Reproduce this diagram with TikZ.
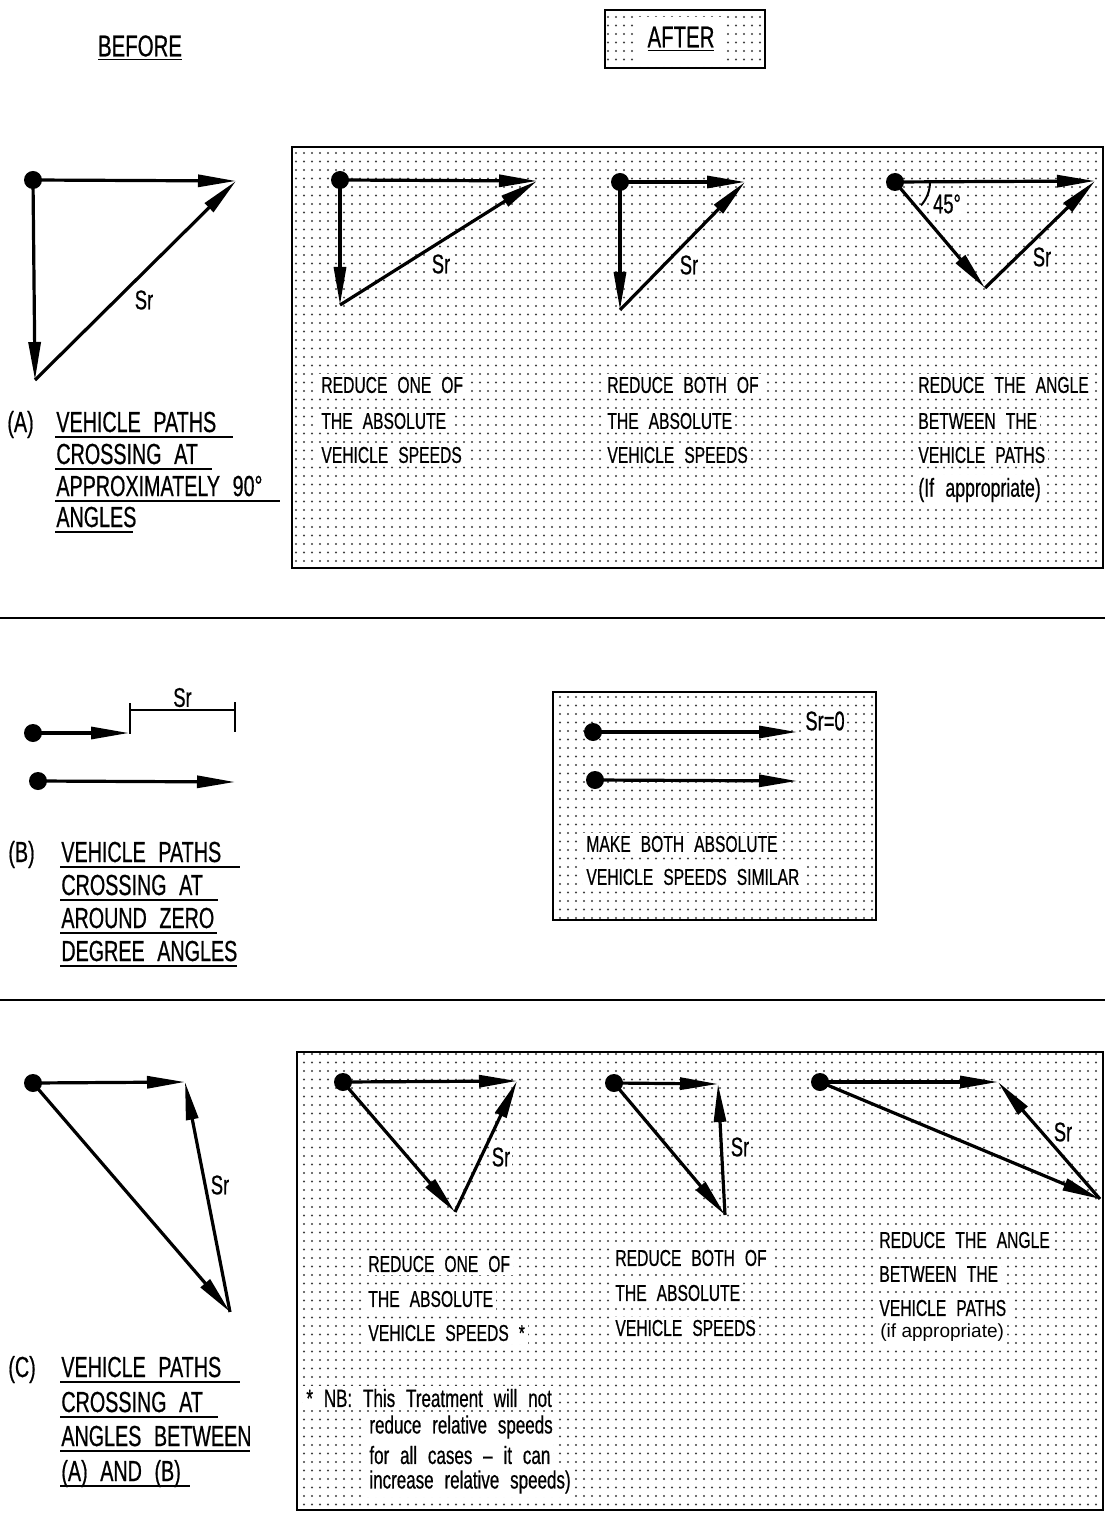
\documentclass[tikz,border=0pt]{standalone}
\usepackage{fontspec}
\setmainfont{Liberation Sans}[FakeStretch=0.68, WordSpace=2.3, FakeBold=0.6]
\newfontfamily\plainsf{Liberation Sans}
\usetikzlibrary{arrows.meta, patterns.meta}

\tikzdeclarepattern{
  name=spots, type=uncolored,
  bottom left={(-1pt,-1pt)}, top right={(3pt,3.25pt)},
  tile size={(4pt,4.25pt)},
  code={\fill (0,0) circle (0.55pt);}
}

\begin{document}
\begin{tikzpicture}[x=0.5pt, y=0.5pt,
  vec/.style={line width=1.6pt, -{Triangle[length=19pt, width=6pt]}},
  panel/.style={draw, line width=1pt, pattern=spots, pattern color=black!75},
  txt/.style={anchor=west, fill=white, inner sep=1.5pt, font=\fontsize{11.5}{13}\selectfont},
  lbl/.style={anchor=base west, inner sep=0pt, font=\fontsize{14.5}{17}\selectfont},
  sr/.style={fill=white, inner sep=1pt, font=\fontsize{13.5}{15}\selectfont},
  uline/.style={line width=0.9pt}]
  \useasboundingbox (0,0) rectangle (1105,-1513);

  % headings
  \node[font=\fontsize{15}{17}\selectfont] (before) at (140,-48) {\underline{BEFORE}};
  \draw[panel] (605,-10) rectangle (765,-68);
  \node[fill=white, inner xsep=6pt, inner ysep=5pt, font=\fontsize{15}{17}\selectfont]
    (after) at (681,-39) {\underline{AFTER}};

  % dotted panels
  \draw[panel] (292,-147) rectangle (1103,-568);
  \draw[panel] (553,-692) rectangle (876,-920);
  \draw[panel] (297,-1052) rectangle (1103,-1510);

  % section rules
  \draw[line width=1pt] (0,-618) -- (1105,-618);
  \draw[line width=1pt] (0,-1000) -- (1105,-1000);

  % ---------------- (A) ----------------
  \coordinate (aBo) at (33,-180);
  \coordinate (aBx) at (236,-181);
  \coordinate (aBy) at (35,-380);
  \coordinate (a1o) at (340,-180);
  \coordinate (a1x) at (537,-181);
  \coordinate (a1y) at (340,-305);
  \coordinate (a2o) at (620,-182);
  \coordinate (a2x) at (745,-182);
  \coordinate (a2y) at (620,-310);
  \coordinate (a3o) at (895,-182);
  \coordinate (a3x) at (1095,-181);
  \coordinate (a3y) at (985,-288);

  \node[sr] (aBs) at (144,-300) {Sr};
  \node[sr] (a1s) at (441,-264) {Sr};
  \node[sr] (a2s) at (689,-265) {Sr};
  \node[sr] (a3s) at (1042,-257) {Sr};
  \node[sr, inner sep=0.5pt] (a3g) at (947,-204) {45°};

  \draw[vec] (aBo) -- (aBx);
  \draw[vec] (aBo) -- (aBy);
  \draw[vec] (aBy) -- (aBx);
  \draw[vec] (a1o) -- (a1x);
  \draw[vec] (a1o) -- (a1y);
  \draw[vec] (a1y) -- (a1x);
  \draw[vec] (a2o) -- (a2x);
  \draw[vec] (a2o) -- (a2y);
  \draw[vec] (a2y) -- (a2x);
  \draw[vec] (a3o) -- (a3x);
  \draw[vec] (a3o) -- (a3y);
  \draw[vec] (a3y) -- (a3x);
  \draw[line width=1pt] (a3o) ++(35,0) arc[start angle=0, end angle=-42, radius=35];
  \fill (aBo) circle (4.5pt);
  \fill (a1o) circle (4.5pt);
  \fill (a2o) circle (4.5pt);
  \fill (a3o) circle (4.5pt);

  \node[txt] (a1t1) at (318,-385) {REDUCE ONE OF};
  \node[txt] (a1t2) at (318,-421) {THE ABSOLUTE};
  \node[txt] (a1t3) at (318,-455) {VEHICLE SPEEDS};
  \node[txt] (a2t1) at (604,-385) {REDUCE BOTH OF};
  \node[txt] (a2t2) at (604,-421) {THE ABSOLUTE};
  \node[txt] (a2t3) at (604,-455) {VEHICLE SPEEDS};
  \node[txt] (a3t1) at (915,-385) {REDUCE THE ANGLE};
  \node[txt] (a3t2) at (915,-421) {BETWEEN THE};
  \node[txt] (a3t3) at (915,-455) {VEHICLE PATHS};
  \node[txt, font=\fontsize{13}{14}\selectfont] (a3t4) at (915,-490) {(If appropriate)};

  \node[lbl] (aTag) at (7,-432) {(A)};
  \node[lbl] (aL1) at (56,-432) {VEHICLE PATHS};
  \node[lbl] (aL2) at (56,-464) {CROSSING AT};
  \node[lbl] (aL3) at (56,-496) {APPROXIMATELY 90°};
  \node[lbl] (aL4) at (56,-527) {ANGLES};
  \draw[uline] (55,-437) -- (233,-437);
  \draw[uline] (55,-469) -- (212,-469);
  \draw[uline] (55,-501) -- (280,-501);
  \draw[uline] (55,-532) -- (133,-532);

  % ---------------- (B) ----------------
  \coordinate (bBo) at (33,-733);
  \coordinate (bBx) at (129,-733);
  \coordinate (bBp) at (38,-781);
  \coordinate (bBq) at (235,-782);
  \coordinate (dimL) at (130,-710);
  \coordinate (dimR) at (235,-710);
  \coordinate (b1o) at (593,-732);
  \coordinate (b1x) at (797,-732);
  \coordinate (b1p) at (595,-780);
  \coordinate (b1q) at (797,-781);

  \draw[line width=0.9pt] (dimL) ++(0,7) -- ++(0,-31);
  \draw[line width=0.9pt] (dimR) ++(0,8) -- ++(0,-30);
  \draw[line width=0.9pt] (dimL) -- node[sr, above=0pt] (bBs) {Sr} (dimR);
  \node[sr] (b1s) at (825,-721) {Sr=0};

  \draw[vec] (bBo) -- (bBx);
  \draw[vec] (bBp) -- (bBq);
  \draw[vec] (b1o) -- (b1x);
  \draw[vec] (b1p) -- (b1q);
  \fill (bBo) circle (4.5pt);
  \fill (bBp) circle (4.5pt);
  \fill (b1o) circle (4.5pt);
  \fill (b1p) circle (4.5pt);

  \node[txt] (b1t1) at (583,-844) {MAKE BOTH ABSOLUTE};
  \node[txt] (b1t2) at (583,-877) {VEHICLE SPEEDS SIMILAR};

  \node[lbl] (bTag) at (8,-862) {(B)};
  \node[lbl] (bL1) at (61,-862) {VEHICLE PATHS};
  \node[lbl] (bL2) at (61,-895) {CROSSING AT};
  \node[lbl] (bL3) at (61,-928) {AROUND ZERO};
  \node[lbl] (bL4) at (61,-961) {DEGREE ANGLES};
  \draw[uline] (60,-867) -- (240,-867);
  \draw[uline] (60,-900) -- (218,-900);
  \draw[uline] (60,-933) -- (217,-933);
  \draw[uline] (60,-966) -- (237,-966);

  % ---------------- (C) ----------------
  \coordinate (cBo) at (33,-1083);
  \coordinate (cBx) at (185,-1082);
  \coordinate (cBy) at (230,-1312);
  \coordinate (c1o) at (343,-1082);
  \coordinate (c1x) at (517,-1081);
  \coordinate (c1y) at (455,-1212);
  \coordinate (c2o) at (614,-1083);
  \coordinate (c2x) at (718,-1084);
  \coordinate (c2y) at (725,-1215);
  \coordinate (c3o) at (820,-1082);
  \coordinate (c3x) at (998,-1082);
  \coordinate (c3y) at (1100,-1199);

  \node[sr] (cBs) at (220,-1185) {Sr};
  \node[sr] (c1s) at (501,-1157) {Sr};
  \node[sr] (c2s) at (740,-1147) {Sr};
  \node[sr] (c3s) at (1063,-1132) {Sr};

  \draw[vec] (cBo) -- (cBx);
  \draw[vec] (cBo) -- (cBy);
  \draw[vec] (cBy) -- (cBx);
  \draw[vec] (c1o) -- (c1x);
  \draw[vec] (c1o) -- (c1y);
  \draw[vec] (c1y) -- (c1x);
  \draw[vec] (c2o) -- (c2x);
  \draw[vec] (c2o) -- (c2y);
  \draw[vec] (c2y) -- (c2x);
  \draw[vec] (c3o) -- (c3x);
  \draw[vec] (c3o) -- (c3y);
  \draw[vec] (c3y) -- (c3x);
  \fill (cBo) circle (4.5pt);
  \fill (c1o) circle (4.5pt);
  \fill (c2o) circle (4.5pt);
  \fill (c3o) circle (4.5pt);

  \node[txt] (c1t1) at (365,-1264) {REDUCE ONE OF};
  \node[txt] (c1t2) at (365,-1299) {THE ABSOLUTE};
  \node[txt] (c1t3) at (365,-1333) {VEHICLE SPEEDS *};
  \node[txt] (c2t1) at (612,-1258) {REDUCE BOTH OF};
  \node[txt] (c2t2) at (612,-1293) {THE ABSOLUTE};
  \node[txt] (c2t3) at (612,-1328) {VEHICLE SPEEDS};
  \node[txt] (c3t1) at (876,-1240) {REDUCE THE ANGLE};
  \node[txt] (c3t2) at (876,-1274) {BETWEEN THE};
  \node[txt] (c3t3) at (876,-1308) {VEHICLE PATHS};
  \node[txt, font=\plainsf\fontsize{9.5}{11}\selectfont] (c3t4) at (877,-1333) {(if appropriate)};

  \node[txt, font=\fontsize{12.5}{14}\selectfont] (nb1) at (303,-1398) {* NB: This Treatment will not};
  \node[txt, font=\fontsize{12.5}{14}\selectfont] (nb2) at (366,-1427) {reduce relative speeds};
  \node[txt, font=\fontsize{12.5}{14}\selectfont] (nb3) at (366,-1455) {for all cases -- it can};
  \node[txt, font=\fontsize{12.5}{14}\selectfont] (nb4) at (366,-1482) {increase relative speeds)};

  \node[lbl] (cTag) at (8,-1377) {(C)};
  \node[lbl] (cL1) at (61,-1377) {VEHICLE PATHS};
  \node[lbl] (cL2) at (61,-1412) {CROSSING AT};
  \node[lbl] (cL3) at (61,-1446) {ANGLES BETWEEN};
  \node[lbl] (cL4) at (61,-1481) {(A) AND (B)};
  \draw[uline] (60,-1382) -- (240,-1382);
  \draw[uline] (60,-1417) -- (218,-1417);
  \draw[uline] (60,-1451) -- (250,-1451);
  \draw[uline] (60,-1486) -- (190,-1486);
\end{tikzpicture}
\end{document}
